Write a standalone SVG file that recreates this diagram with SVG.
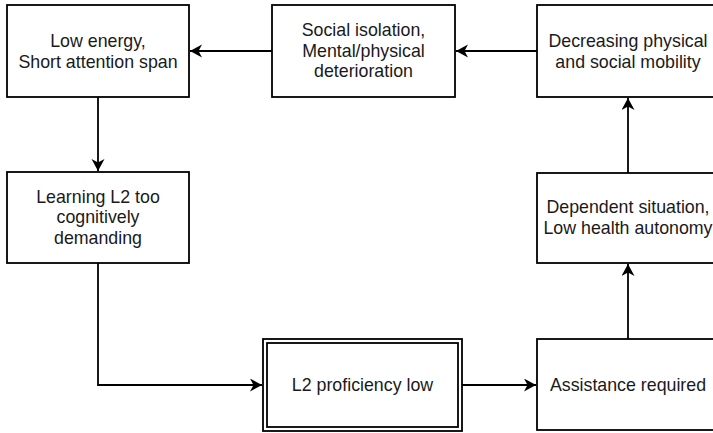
<svg xmlns="http://www.w3.org/2000/svg" width="713" height="433" viewBox="0 0 713 433">
<style>
.box{fill:#ffffff;stroke:#000;stroke-width:1.8}
.t{font-family:"Liberation Sans",Arial,Helvetica,sans-serif;font-size:17.8px;fill:#1a1a1a;text-anchor:middle}
.c{fill:none;stroke:#000;stroke-width:1.8}
</style>
<defs>
<marker id="arr" markerUnits="userSpaceOnUse" markerWidth="14" markerHeight="14" refX="12" refY="6.5" orient="auto">
<path d="M0,0 L12,6.5 L0,13 L3.5,6.5 Z" fill="#000"/>
</marker>
</defs>
<rect width="713" height="433" fill="#fff"/>
<g id="connectors">
<path class="c" d="M537,51 L456,51" marker-end="url(#arr)"/>
<path class="c" d="M272,51 L190,51" marker-end="url(#arr)"/>
<path class="c" d="M98,97 L98,171" marker-end="url(#arr)"/>
<path class="c" d="M98,263 L98,385 L262,385" marker-end="url(#arr)"/>
<path class="c" d="M462,385 L536,385" marker-end="url(#arr)"/>
<path class="c" d="M628,339 L628,264" marker-end="url(#arr)"/>
<path class="c" d="M628,173 L628,98" marker-end="url(#arr)"/>
</g>
<g id="n-low-energy">
<rect class="box" x="7" y="5" width="182" height="92"/>
<text class="t" x="98" y="46.5">Low energy,</text>
<text class="t" x="98" y="67.5">Short attention span</text>
</g>
<g id="n-social-isolation">
<rect class="box" x="272" y="5" width="183" height="92"/>
<text class="t" x="363.5" y="36">Social isolation,</text>
<text class="t" x="363.5" y="56.5">Mental/physical</text>
<text class="t" x="363.5" y="77">deterioration</text>
</g>
<g id="n-decreasing">
<rect class="box" x="537" y="5" width="182" height="92"/>
<text class="t" x="628" y="46.5">Decreasing physical</text>
<text class="t" x="628" y="67.5">and social mobility</text>
</g>
<g id="n-learning">
<rect class="box" x="7" y="172" width="182" height="91"/>
<text class="t" x="98" y="202.5">Learning L2 too</text>
<text class="t" x="98" y="223">cognitively</text>
<text class="t" x="98" y="243.5">demanding</text>
</g>
<g id="n-dependent">
<rect class="box" x="537" y="173" width="182" height="90"/>
<text class="t" x="628" y="212.5">Dependent situation,</text>
<text class="t" x="628" y="233.5">Low health autonomy</text>
</g>
<g id="n-l2-low">
<rect class="box" x="263" y="339" width="199" height="92"/>
<rect class="box" x="267" y="343" width="191" height="84"/>
<text class="t" x="362.5" y="391">L2 proficiency low</text>
</g>
<g id="n-assistance">
<rect class="box" x="537" y="339" width="182" height="91"/>
<text class="t" x="628" y="390.5">Assistance required</text>
</g>
</svg>
